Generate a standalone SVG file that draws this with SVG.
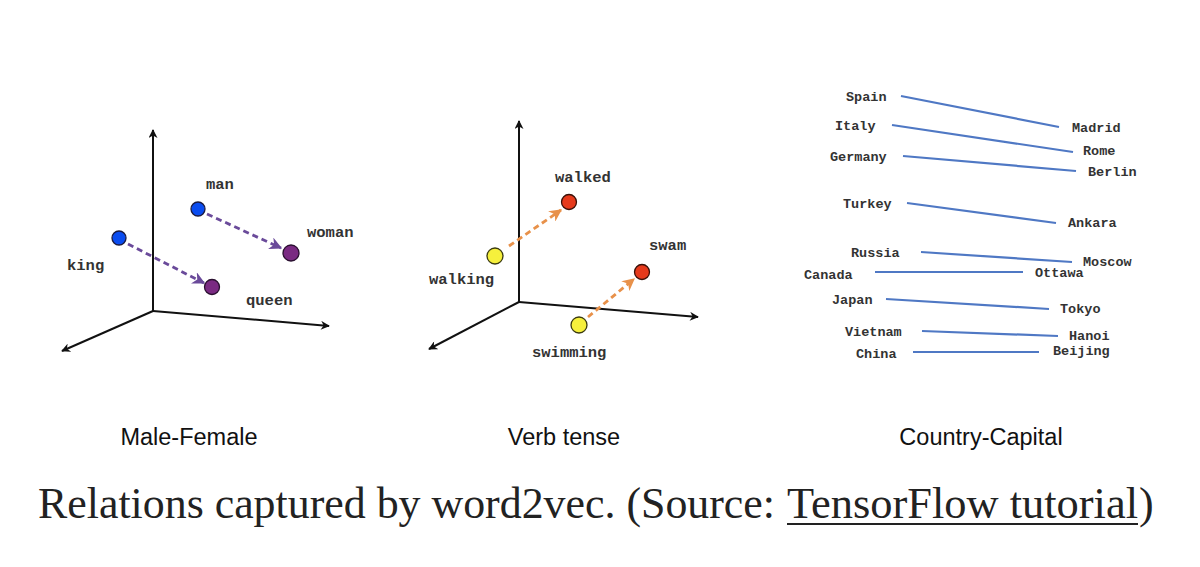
<svg xmlns="http://www.w3.org/2000/svg" width="1200" height="567" viewBox="0 0 1200 567">
<style>
.lbl{font-family:"Liberation Mono","Courier New",monospace;font-weight:bold;font-size:15.5px;fill:#333}
.cty{font-family:"Liberation Mono","Courier New",monospace;font-weight:bold;font-size:13.5px;fill:#333}
.cap{font-family:"Liberation Sans",Arial,sans-serif;font-size:23.5px;fill:#111;text-anchor:middle}
.title{font-family:"Liberation Serif","DejaVu Serif",serif;font-size:44px;fill:#222}
.axis{stroke:#111;stroke-width:2;fill:none}
.pv{stroke:#6a4a9a;stroke-width:2.8;stroke-dasharray:6 4;fill:none}
.ov{stroke:#e8914a;stroke-width:2.8;stroke-dasharray:6 4;fill:none}
.cl{stroke:#4f78c4;stroke-width:2.2}
.blue{fill:#0a4cf0;stroke:#1a1a40;stroke-width:1.3}
.purple{fill:#7a2a82;stroke:#2a1030;stroke-width:1.3}
.yellow{fill:#f6f03c;stroke:#3a3a10;stroke-width:1.3}
.red{fill:#e63a1c;stroke:#3a1008;stroke-width:1.3}
</style>
<defs>
<marker id="ah" viewBox="0 0 10 10" refX="9" refY="5" markerWidth="10" markerHeight="9" orient="auto" markerUnits="userSpaceOnUse">
<path d="M0,0 L10,5 L0,10 L3,5 z" fill="#111"/>
</marker>
<marker id="ahp" viewBox="0 0 10 10" refX="9" refY="5" markerWidth="4.5" markerHeight="4.5" orient="auto">
<path d="M0,0 L10,5 L0,10 L3,5 z" fill="#6a4a9a"/>
</marker>
<marker id="aho" viewBox="0 0 10 10" refX="9" refY="5" markerWidth="4.5" markerHeight="4.5" orient="auto">
<path d="M0,0 L10,5 L0,10 L3,5 z" fill="#e8914a"/>
</marker>
</defs>
<rect width="1200" height="567" fill="#fff"/>

<!-- Panel 1 axes -->
<g id="axes1">
<line class="axis" x1="153" y1="311" x2="153" y2="130" marker-end="url(#ah)"/>
<line class="axis" x1="153" y1="311" x2="329" y2="326" marker-end="url(#ah)"/>
<line class="axis" x1="153" y1="311" x2="62" y2="351" marker-end="url(#ah)"/>
</g>
<g id="connectors1">
<line class="pv" x1="128" y1="244" x2="204" y2="283" marker-end="url(#ahp)"/>
<line class="pv" x1="207" y1="214" x2="281" y2="248" marker-end="url(#ahp)"/>
</g>
<g id="king"><circle class="blue" cx="119" cy="238" r="7"/><text class="lbl" x="67" y="270">king</text></g>
<g id="man"><circle class="blue" cx="198" cy="209" r="7"/><text class="lbl" x="206" y="189">man</text></g>
<g id="woman"><circle class="purple" cx="291" cy="253" r="8"/><text class="lbl" x="307" y="237">woman</text></g>
<g id="queen"><circle class="purple" cx="212" cy="287" r="7.5"/><text class="lbl" x="246" y="305">queen</text></g>

<!-- Panel 2 axes -->
<g id="axes2">
<line class="axis" x1="519" y1="302" x2="519" y2="121" marker-end="url(#ah)"/>
<line class="axis" x1="519" y1="302" x2="698" y2="317" marker-end="url(#ah)"/>
<line class="axis" x1="519" y1="302" x2="429" y2="349" marker-end="url(#ah)"/>
</g>
<g id="connectors2">
<line class="ov" x1="509" y1="246" x2="561" y2="210" marker-end="url(#aho)"/>
<line class="ov" x1="588" y1="317" x2="634" y2="279" marker-end="url(#aho)"/>
</g>
<g id="walking"><circle class="yellow" cx="495" cy="256" r="8"/><text class="lbl" x="429" y="284">walking</text></g>
<g id="walked"><circle class="red" cx="569" cy="202" r="7.5"/><text class="lbl" x="555" y="182">walked</text></g>
<g id="swam"><circle class="red" cx="642" cy="272" r="7.5"/><text class="lbl" x="649" y="250">swam</text></g>
<g id="swimming"><circle class="yellow" cx="579" cy="325" r="8"/><text class="lbl" x="532" y="357">swimming</text></g>

<!-- Panel 3 -->
<g id="connectors3">
<line class="cl" x1="901" y1="96" x2="1059" y2="127"/>
<line class="cl" x1="892" y1="125" x2="1073" y2="152"/>
<line class="cl" x1="903" y1="156" x2="1076" y2="171"/>
<line class="cl" x1="907" y1="203" x2="1056" y2="223"/>
<line class="cl" x1="921" y1="252" x2="1072" y2="262"/>
<line class="cl" x1="875" y1="272" x2="1023" y2="272"/>
<line class="cl" x1="886" y1="299" x2="1049" y2="309"/>
<line class="cl" x1="922" y1="331" x2="1058" y2="336"/>
<line class="cl" x1="913" y1="352" x2="1039" y2="352"/>
</g>
<g id="countries">
<text class="cty" x="846" y="101">Spain</text>
<text class="cty" x="835" y="130">Italy</text>
<text class="cty" x="830" y="161">Germany</text>
<text class="cty" x="843" y="208">Turkey</text>
<text class="cty" x="851" y="257">Russia</text>
<text class="cty" x="804" y="279">Canada</text>
<text class="cty" x="832" y="304">Japan</text>
<text class="cty" x="845" y="336">Vietnam</text>
<text class="cty" x="856" y="358">China</text>
</g>
<g id="capitals">
<text class="cty" x="1072" y="132">Madrid</text>
<text class="cty" x="1083" y="155">Rome</text>
<text class="cty" x="1088" y="176">Berlin</text>
<text class="cty" x="1068" y="227">Ankara</text>
<text class="cty" x="1083" y="266">Moscow</text>
<text class="cty" x="1035" y="277">Ottawa</text>
<text class="cty" x="1060" y="313">Tokyo</text>
<text class="cty" x="1069" y="340">Hanoi</text>
<text class="cty" x="1053" y="355">Beijing</text>
</g>

<g id="captions">
<text class="cap" x="189" y="445">Male-Female</text>
<text class="cap" x="564" y="445">Verb tense</text>
<text class="cap" x="981" y="445">Country-Capital</text>
</g>
<g id="title">
<text class="title" x="38" y="518" textLength="737" lengthAdjust="spacingAndGlyphs">Relations captured by word2vec. (Source:</text>
<text class="title" x="787" y="518" textLength="351" lengthAdjust="spacingAndGlyphs">TensorFlow tutorial</text>
<text class="title" x="1139" y="518">)</text>
<line x1="787" y1="524" x2="1138" y2="524" stroke="#222" stroke-width="2"/>
</g>
</svg>
